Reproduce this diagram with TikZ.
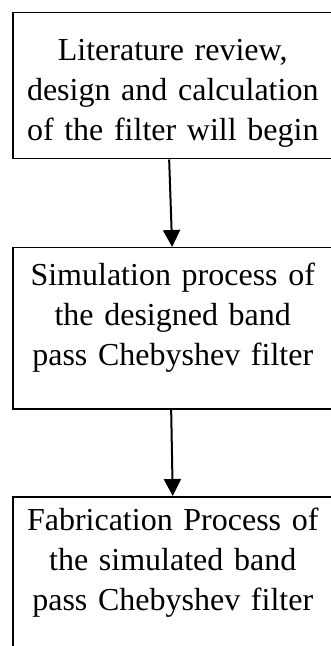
\documentclass[tikz,border=0pt]{standalone}
\usepackage{fontspec}
\setmainfont{Liberation Serif}
\usetikzlibrary{arrows.meta,positioning}

\tikzset{
	stepbox/.style={draw, line width=0.75pt, text width=160pt, align=center, inner sep=0pt, anchor=north west, font=\fontsize{16}{20}\selectfont},
	flow/.style={line width=1pt, -{Triangle[width=8.5pt,length=8.5pt]}}
}

\begin{document}
\begin{tikzpicture}
			%%%%% START %%%%%
			
			\useasboundingbox (0pt, 0pt) rectangle (165.5pt, -323pt);
			
			\node[stepbox, text height=24pt, text depth=49pt] (review) at (6pt, -6pt) {Literature review,\\ design and calculation\\ of the filter will begin};
			\node[stepbox, text height=19pt, text depth=61.5pt] (simul) at (6pt, -123.5pt) {Simulation process of\\ the designed band\\ pass Chebyshev filter};
			\node[stepbox, text height=17pt, text depth=63.5pt] (fabric) at (6pt, -248pt) {Fabrication Process of\\ the simulated band\\ pass Chebyshev filter};
			
			\draw[flow] ([xshift=-1.8pt]review.south) -- ([xshift=-0.3pt]simul.north);
			\draw[flow] ([xshift=-0.8pt]simul.south) -- ([xshift=0pt]fabric.north);
			
			%%%%% END %%%%%
		\end{tikzpicture}
\end{document}
